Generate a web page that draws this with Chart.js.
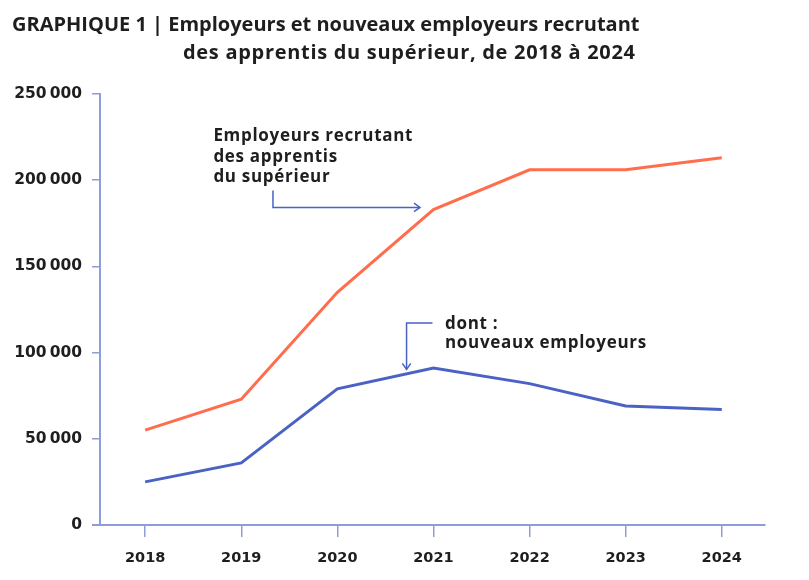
<!DOCTYPE html>
<html>
<head>
<meta charset="utf-8">
<script src="https://cdn.jsdelivr.net/npm/chart.js@4"></script>
<style>
  html, body { margin: 0; padding: 0; background: #fff; }
  #wrap { width: 809px; height: 580px; position: relative; }
</style>
</head>
<body>
<div id="wrap"><canvas id="c"></canvas></div>
<script>
  const years = [2018, 2019, 2020, 2021, 2022, 2023, 2024];
  const employeurs = [55000, 73000, 135000, 183000, 206000, 206000, 213000];
  const nouveaux = [25000, 36000, 79000, 91000, 82000, 69000, 67000];
  const yTicks = [0, 50000, 100000, 150000, 200000, 250000];

  const ORANGE = '#ff6d4d';
  const BLUE = '#4a62c4';
  const AXIS = '#8e9dd8';
  const TEXT = '#1e1e1e';

  const fmt = (v) => v === 0 ? '0' : Math.floor(v / 1000) + '\u202f' + String(v % 1000).padStart(3, '0');

  function arrowHead(ctx, x, y, dir) {
    const s = 6;
    ctx.beginPath();
    if (dir === 'right') {
      ctx.moveTo(x - s, y - s * 0.7);
      ctx.lineTo(x, y);
      ctx.lineTo(x - s, y + s * 0.7);
    } else {
      ctx.moveTo(x - s * 0.7, y - s);
      ctx.lineTo(x, y);
      ctx.lineTo(x + s * 0.7, y - s);
    }
    ctx.stroke();
  }

  const decor = {
    id: 'decor',
    afterDraw(chart) {
      const ctx = chart.ctx;
      const xs = chart.scales.x, ys = chart.scales.y;
      const X = (v) => xs.getPixelForValue(v);
      const Y = (v) => ys.getPixelForValue(v);
      ctx.save();

      // titre
      ctx.fillStyle = TEXT;
      ctx.textBaseline = 'middle';
      ctx.textAlign = 'left';
      ctx.font = '700 20px "Open Sans"';
      ctx.fillText('GRAPHIQUE 1 | Employeurs et nouveaux employeurs recrutant', 12, 25);
      ctx.letterSpacing = '0.7px';
      ctx.fillText('des apprentis du supérieur, de 2018 à 2024', 183, 53);

      // axe x prolongé à gauche
      ctx.letterSpacing = '0px';
      ctx.strokeStyle = AXIS;
      ctx.lineWidth = 2;
      ctx.beginPath();
      ctx.moveTo(chart.chartArea.left - 8, ys.bottom);
      ctx.lineTo(chart.chartArea.left, ys.bottom);
      ctx.stroke();

      // annotations
      ctx.font = '700 17px "Open Sans"';
      ctx.letterSpacing = '0.7px';
      ctx.fillStyle = TEXT;
      ctx.fillText('Employeurs recrutant', X(2018.71), Y(225500));
      ctx.fillText('des apprentis', X(2018.71), Y(213300));
      ctx.fillText('du supérieur', X(2018.71), Y(201600));
      ctx.fillText('dont :', X(2021.12), Y(116500));
      ctx.fillText('nouveaux employeurs', X(2021.12), Y(105500));
      ctx.letterSpacing = '0px';

      ctx.strokeStyle = BLUE;
      ctx.lineWidth = 1.5;
      ctx.beginPath();
      ctx.moveTo(X(2019.33), Y(194000));
      ctx.lineTo(X(2019.33), Y(184200));
      ctx.lineTo(X(2020.86), Y(184200));
      ctx.stroke();
      arrowHead(ctx, X(2020.86), Y(184200), 'right');

      ctx.beginPath();
      ctx.moveTo(X(2020.99), Y(117100));
      ctx.lineTo(X(2020.72), Y(117100));
      ctx.lineTo(X(2020.72), Y(90300));
      ctx.stroke();
      arrowHead(ctx, X(2020.72), Y(90300), 'down');

      ctx.restore();
    }
  };

  new Chart(document.getElementById('c'), {
    type: 'line',
    data: {
      datasets: [
        {
          label: 'Employeurs recrutant des apprentis du supérieur',
          data: years.map((y, i) => ({ x: y, y: employeurs[i] })),
          borderColor: ORANGE,
          borderWidth: 3,
          pointRadius: 0,
          tension: 0,
        },
        {
          label: 'dont : nouveaux employeurs',
          data: years.map((y, i) => ({ x: y, y: nouveaux[i] })),
          borderColor: BLUE,
          borderWidth: 3,
          pointRadius: 0,
          tension: 0,
        },
      ],
    },
    options: {
      responsive: true,
      maintainAspectRatio: false,
      animation: false,
      layout: { padding: { top: 94, left: 12, right: 44, bottom: 10 } },
      plugins: { legend: { display: false }, tooltip: { enabled: false } },
      scales: {
        x: {
          type: 'linear',
          min: 2017.53,
          max: 2024.45,
          afterBuildTicks: (scale) => { scale.ticks = years.map((v) => ({ value: v })); },
          afterFit: (scale) => { scale.height = 45; },
          grid: { drawOnChartArea: false, color: AXIS, tickLength: 12, lineWidth: 1.5 },
          border: { color: AXIS, width: 2 },
          ticks: {
            color: TEXT,
            font: { family: 'DejaVu Sans', weight: 'bold', size: 14.5 },
            padding: 13,
            callback: (v) => String(v),
          },
        },
        y: {
          min: 0,
          max: 250000,
          afterBuildTicks: (scale) => { scale.ticks = yTicks.map((v) => ({ value: v })); },
          afterFit: (scale) => { scale.width = 88; },
          grid: { drawOnChartArea: false, color: AXIS, tickLength: 8, lineWidth: 1.5 },
          border: { color: AXIS, width: 2 },
          ticks: {
            color: TEXT,
            font: { family: 'DejaVu Sans', weight: 'bold', size: 15.5 },
            padding: 10,
            callback: (v) => fmt(v),
          },
        },
      },
    },
    plugins: [decor],
  });
</script>
</body>
</html>
